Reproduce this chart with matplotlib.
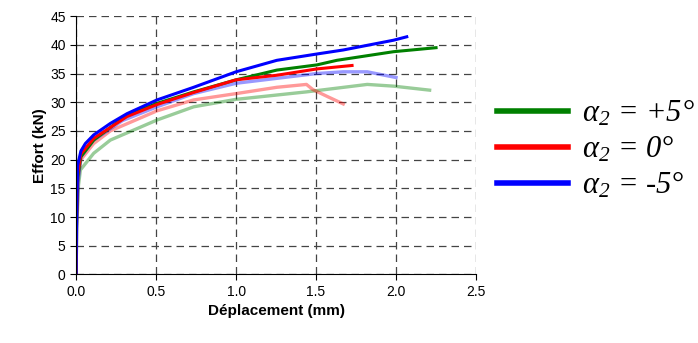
import numpy as np
import matplotlib.pyplot as plt
from matplotlib.lines import Line2D

plt.rcParams['font.family'] = 'Liberation Sans'
plt.rcParams['mathtext.fontset'] = 'custom'
plt.rcParams['mathtext.rm'] = 'Liberation Serif:italic'
plt.rcParams['mathtext.it'] = 'Liberation Serif:italic'

# essai principal (trait épais) et second essai (trait clair)
x_p5_a = [0.0, 0.003, 0.01, 0.03, 0.11, 0.318, 0.506, 0.735, 1.0, 1.255, 1.505, 1.63, 1.984, 2.25]
y_p5_a = [0.0, 10.0, 17.0, 20.5, 23.4, 27.8, 29.8, 31.8, 33.9, 35.6, 36.5, 37.3, 38.8, 39.5]
x_p5_b = [0.0, 0.004, 0.015, 0.027, 0.11, 0.214, 0.506, 0.735, 1.0, 1.44, 1.82, 1.984, 2.21]
y_p5_b = [0.0, 8.0, 15.5, 18.2, 21.1, 23.4, 26.9, 29.2, 30.5, 31.8, 33.1, 32.8, 32.1]

x_0_a = [0.0, 0.003, 0.01, 0.03, 0.11, 0.318, 0.506, 0.735, 1.0, 1.255, 1.505, 1.725]
y_0_a = [0.0, 10.0, 17.5, 21.0, 23.7, 27.5, 29.6, 31.7, 33.9, 34.7, 35.8, 36.4]
x_0_b = [0.0, 0.003, 0.01, 0.03, 0.11, 0.214, 0.506, 0.735, 1.0, 1.255, 1.44, 1.48, 1.57, 1.67]
y_0_b = [0.0, 9.0, 16.5, 20.0, 22.8, 25.0, 28.5, 30.4, 31.5, 32.6, 33.1, 32.2, 31.0, 29.7]

x_m5_a = [0.0, 0.003, 0.01, 0.03, 0.058, 0.11, 0.214, 0.318, 0.506, 0.735, 1.0, 1.255, 1.505, 1.67, 1.984, 2.067]
y_m5_a = [0.0, 10.0, 19.0, 21.5, 22.8, 24.3, 26.3, 28.0, 30.4, 32.6, 35.3, 37.3, 38.4, 39.1, 40.8, 41.4]
x_m5_b = [0.0, 0.004, 0.012, 0.03, 0.11, 0.29, 0.506, 0.735, 1.0, 1.505, 1.67, 1.82, 2.0]
y_m5_b = [0.0, 8.0, 16.0, 20.5, 23.4, 26.8, 29.2, 31.5, 33.3, 35.0, 35.3, 35.3, 34.3]

labels = [r'$\alpha_2$ = +5°', r'$\alpha_2$ = 0°', r'$\alpha_2$ = -5°']
couleurs = ['#008000', '#ff0000', '#0000ff']

fig = plt.figure(figsize=(6.98, 3.43), dpi=100)
ax = fig.add_axes([0.109, 0.200, 0.573, 0.753])

ax.plot(x_p5_b, y_p5_b, color=couleurs[0], lw=2.4, alpha=0.4)
ax.plot(x_0_b, y_0_b, color=couleurs[1], lw=2.4, alpha=0.4)
ax.plot(x_m5_b, y_m5_b, color=couleurs[2], lw=2.4, alpha=0.4)
ax.plot(x_p5_a, y_p5_a, color=couleurs[0], lw=2.2)
ax.plot(x_0_a, y_0_a, color=couleurs[1], lw=2.2)
ax.plot(x_m5_a, y_m5_a, color=couleurs[2], lw=2.2)

ax.set_xlim(0, 2.5)
ax.set_ylim(0, 45)
ax.set_xticks(np.arange(0, 2.51, 0.5))
ax.set_yticks(np.arange(0, 46, 5))
ax.set_xticklabels(['0.0', '0.5', '1.0', '1.5', '2.0', '2.5'])
ax.grid(True, color='#444444', linestyle=(0, (6, 4)), linewidth=0.9)
ax.spines['top'].set_visible(False)
ax.spines['right'].set_visible(False)
ax.tick_params(direction='out', length=4, labelsize=10)
ax.set_xlabel('Déplacement (mm)', fontsize=11, fontweight='bold')
ax.set_ylabel('Effort (kN)', fontsize=11, fontweight='bold', labelpad=2)

handles = [Line2D([], [], color=c, lw=4) for c in couleurs]
fig.legend(handles, labels, loc='center left', bbox_to_anchor=(0.672, 0.565),
           frameon=False, handlelength=2.35, labelspacing=0.18, handletextpad=0.45,
           prop={'family': 'Liberation Serif', 'style': 'italic', 'size': 22})

fig.savefig('out.png', dpi=100)
